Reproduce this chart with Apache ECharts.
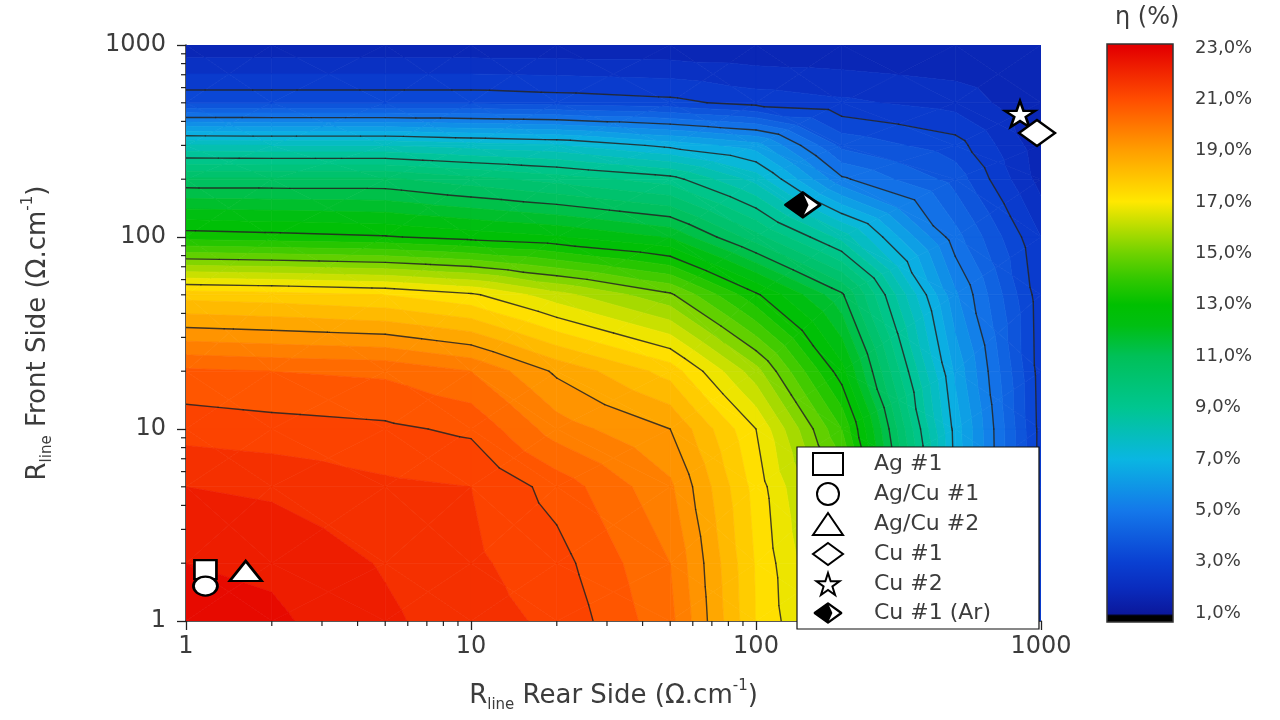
<!DOCTYPE html>
<html><head><meta charset="utf-8">
<script src="https://cdn.jsdelivr.net/npm/echarts@6/dist/echarts.min.js"></script>
<style>html,body{margin:0;padding:0;background:#fff}#c{width:1280px;height:720px}</style>
</head><body><div id="c"></div>
<script>
// ---------------- data ----------------
const rearR  = [1, 2, 5, 10, 20, 50, 100, 200, 500, 1000];        // R_line rear side (Ohm/cm)
const frontR = [1, 2, 5, 10, 20, 50, 100, 200, 300, 500, 1000];   // R_line front side (Ohm/cm)
// efficiency (%) : one row per front value (1 ... 1000), one column per rear value
const eta = [
  [22.7, 22.6, 22.1, 21.7, 21.4, 20.15, 17.5, 15.8, 6.95, 2.8],
  [22.5, 22.4, 21.95, 21.6, 21.2, 20.0, 17.45, 15.5, 6.95, 2.8],
  [22.0, 21.9, 21.6, 21.5, 20.8, 19.6, 17.3, 15.0, 6.9, 2.8],
  [21.3, 21.2, 21.1, 20.9, 19.75, 19.0, 17.0, 14.0, 6.8, 2.8],
  [20.6, 20.5, 20.4, 20.0, 18.9, 17.8, 15.7, 12.7, 6.4, 2.75],
  [17.8, 17.7, 17.5, 17.1, 16.2, 15.1, 13.1, 11.1, 5.6, 2.7],
  [13.3, 13.2, 13.05, 12.8, 12.55, 11.95, 10.2, 8.3, 4.7, 2.5],
  [10.6, 10.6, 10.6, 10.2, 9.8, 9.23, 7.8, 5.1, 3.8, 1.8],
  [8.05, 8.0, 8.0, 7.76, 7.56, 6.84, 6.24, 3.86, 3.23, 1.7],
  [3.4, 3.4, 3.4, 3.4, 3.3, 3.15, 2.8, 2.6, 2.3, 1.6],
  [1.6, 1.6, 1.6, 1.6, 1.6, 1.6, 1.55, 1.55, 1.5, 1.5]
];
const contourLevels = [3, 5, 7, 9, 11, 13, 15, 17, 19, 21];
const sampleNames = ['Ag #1', 'Ag/Cu #1', 'Ag/Cu #2', 'Cu #1', 'Cu #2', 'Cu #1 (Ar)'];
const sampleRear  = [1.17, 1.17, 1.62, 968, 844, 146];
const sampleFront = [1.85, 1.52, 1.82, 348, 437, 147];
const cbMin = 1, cbMax = 23, cbStep = 2;        // colour-bar tick labels 1,0% ... 23,0%
const cbRange = [0.65, 23.16];                 // extent of the colour bar
const minorDecades = [1, 10, 100];
const minorMult = [2, 3, 4, 5, 6, 7, 8, 9];

// ---------------- styles ----------------
const FONT = 'DejaVu Sans';
const TXT = '#3c3c3c';
const colorStops = [
  [0.65, '#000000'], [0.92, '#000000'], [1.0, '#0b189c'], [2, '#0a2cbe'], [3, '#0a40d2'], [5, '#1478ea'],
  [7, '#0ab6e2'], [9, '#00c690'], [11, '#00c058'], [12.2, '#00bf12'], [13, '#00c000'],
  [14, '#32c800'], [15, '#70d200'], [17, '#ffe800'], [19, '#ff9e00'], [21, '#ff4c00'],
  [23, '#e40000'], [23.16, '#e00000']
];
function hex2rgb(h) { return [parseInt(h.slice(1,3),16), parseInt(h.slice(3,5),16), parseInt(h.slice(5,7),16)]; }
function etaColor(v) {
  if (v <= colorStops[0][0]) return colorStops[0][1];
  for (let k = 0; k < colorStops.length - 1; k++) {
    const a = colorStops[k], b = colorStops[k+1];
    if (v <= b[0]) {
      const t = (v - a[0]) / (b[0] - a[0]);
      const ca = hex2rgb(a[1]), cb = hex2rgb(b[1]);
      return 'rgb(' + ca.map((c, n) => Math.round(c + t * (cb[n] - c))).join(',') + ')';
    }
  }
  return colorStops[colorStops.length - 1][1];
}

// ---------------- geometry helpers ----------------
const cells = [];
for (let j = 0; j < frontR.length - 1; j++)
  for (let i = 0; i < rearR.length - 1; i++)
    cells.push([Math.sqrt(rearR[i]*rearR[i+1]), Math.sqrt(frontR[j]*frontR[j+1]), i, j]);

function cellTriangles(api) {
  const i = api.value(2), j = api.value(3);
  const r0 = rearR[i], r1 = rearR[i+1], f0 = frontR[j], f1 = frontR[j+1];
  const P = (r, f, v) => { const p = api.coord([r, f]); return [p[0], p[1], v]; };
  const v00 = eta[j][i], v10 = eta[j][i+1], v11 = eta[j+1][i+1], v01 = eta[j+1][i];
  const A = P(r0, f0, v00), B = P(r1, f0, v10), C = P(r1, f1, v11), D = P(r0, f1, v01);
  const M = P(Math.sqrt(r0*r1), Math.sqrt(f0*f1), (v00 + v10 + v11 + v01) / 4);
  return [[A, B, M], [B, C, M], [C, D, M], [D, A, M]];
}
function clipPoly(poly, lev, above) {
  const out = [];
  for (let k = 0; k < poly.length; k++) {
    const p = poly[k], q = poly[(k+1) % poly.length];
    const pin = above ? p[2] >= lev : p[2] <= lev;
    const qin = above ? q[2] >= lev : q[2] <= lev;
    if (pin) out.push(p);
    if (pin !== qin) {
      const t = (lev - p[2]) / (q[2] - p[2]);
      out.push([p[0] + t*(q[0]-p[0]), p[1] + t*(q[1]-p[1]), lev]);
    }
  }
  return out;
}
const BAND = 0.5;
function renderField(params, api) {
  const children = [];
  cellTriangles(api).forEach(tri => {
    const vs = tri.map(p => p[2]);
    const lo = Math.min(...vs), hi = Math.max(...vs);
    for (let k = Math.floor(lo / BAND); k * BAND < hi || k === Math.floor(lo / BAND); k++) {
      const a = k * BAND, b = a + BAND;
      const poly = clipPoly(clipPoly(tri, a, true), b, false);
      if (poly.length < 3) continue;
      const col = etaColor(a + BAND / 2);
      children.push({ type: 'polygon', shape: { points: poly.map(p => [p[0], p[1]]) },
        style: { fill: col, stroke: col, lineWidth: 0.7 } });
    }
  });
  return { type: 'group', children };
}
function renderContours(params, api) {
  const children = [];
  cellTriangles(api).forEach(tri => {
    contourLevels.forEach(L => {
      const pts = [];
      for (let k = 0; k < 3; k++) {
        const p = tri[k], q = tri[(k+1) % 3];
        if ((p[2] < L) !== (q[2] < L)) {
          const t = (L - p[2]) / (q[2] - p[2]);
          pts.push([p[0] + t*(q[0]-p[0]), p[1] + t*(q[1]-p[1])]);
        }
      }
      if (pts.length === 2) children.push({ type: 'line',
        shape: { x1: pts[0][0], y1: pts[0][1], x2: pts[1][0], y2: pts[1][1] },
        style: { stroke: 'rgba(35,35,35,0.85)', lineWidth: 1.4, lineCap: 'round' } });
    });
  });
  return { type: 'group', children };
}
const minorVals = [];
minorDecades.forEach(d => minorMult.forEach(m => minorVals.push([d*m, d*m])));
function renderMinor(params, api) {
  const v = api.value(0);
  const bx = api.coord([v, 1]), ly = api.coord([1, v]);
  const st = { stroke: '#222', lineWidth: 1.2 };
  return { type: 'group', children: [
    { type: 'line', shape: { x1: bx[0], y1: bx[1], x2: bx[0], y2: bx[1] + 5 }, style: st },
    { type: 'line', shape: { x1: ly[0] - 5, y1: ly[1], x2: ly[0], y2: ly[1] }, style: st }
  ]};
}
function renderBar(params, api) {
  const p0 = api.coord([0, cbRange[1]]), p1 = api.coord([1, cbRange[0]]);
  const span = cbRange[1] - cbRange[0];
  const stops = colorStops.map(s => ({ offset: Math.min(1, Math.max(0, (cbRange[1] - s[0]) / span)), color: s[1] }))
    .sort((a, b) => a.offset - b.offset);
  return { type: 'rect', shape: { x: p0[0], y: p0[1], width: p1[0] - p0[0], height: p1[1] - p0[1] },
    style: { fill: new echarts.graphic.LinearGradient(0, 0, 0, 1, stops), stroke: '#333', lineWidth: 1.5 } };
}

// ---------------- symbols ----------------
const STAR = 'path://M50,2 L61,36 L97,36 L68,57 L79,92 L50,71 L21,92 L32,57 L3,36 L39,36 Z';
const halfSvg = "<svg xmlns='http://www.w3.org/2000/svg' width='40' height='30' viewBox='0 0 40 30'>" +
  "<polygon points='20,1.8 38.2,15 20,28.2 1.8,15' fill='white' stroke='black' stroke-width='3' stroke-linejoin='round'/>" +
  "<polygon points='20,1.8 26,15 20,28.2 1.8,15' fill='black'/></svg>";
const HALF = 'image://data:image/svg+xml;charset=utf-8,' + encodeURIComponent(halfSvg);
const symbols = ['rect', 'circle', 'triangle', 'diamond', STAR, HALF];
const symSizes = [[22, 19], [24, 19], [32, 20], [36, 26], [30, 26], [38, 28]];
const symZ = [5, 5, 5, 7, 6, 5];

const richName = {
  a: { fontSize: 26, lineHeight: 34, color: TXT, fontFamily: FONT },
  s: { fontSize: 15, lineHeight: 11, verticalAlign: 'bottom', color: TXT, fontFamily: FONT },
  p: { fontSize: 15, lineHeight: 15, verticalAlign: 'top', color: TXT, fontFamily: FONT }
};

const chart = echarts.init(document.getElementById('c'), null, { renderer: 'canvas' });
chart.setOption({
  animation: false,
  backgroundColor: '#ffffff',
  title: { text: 'η (%)', left: 1110, top: 1, textStyle: { fontSize: 24, fontWeight: 'normal', color: TXT, fontFamily: FONT } },
  grid: [
    { left: 186, top: 45, width: 855, height: 576 },
    { left: 1107, top: 48, width: 66, height: 565 }
  ],
  xAxis: [
    { gridIndex: 0, type: 'log', logBase: 10, min: 1, max: 1000,
      axisLine: { show: true, onZero: false, lineStyle: { color: '#222', width: 1.5 } },
      axisTick: { show: true, length: 9, lineStyle: { color: '#222', width: 1.3 } },
      axisLabel: { fontSize: 24, color: TXT, margin: 14, fontFamily: FONT, formatter: v => String(v) },
      splitLine: { show: false },
      name: '{a|R}{s|line}{a| Rear Side (Ω.cm}{p|-1}{a|)}', nameLocation: 'middle', nameGap: 58,
      nameTextStyle: { rich: richName } },
    { gridIndex: 1, type: 'value', min: 0, max: 1, show: false }
  ],
  yAxis: [
    { gridIndex: 0, type: 'log', logBase: 10, min: 1, max: 1000,
      axisLine: { show: true, onZero: false, lineStyle: { color: '#222', width: 1.5 } },
      axisTick: { show: true, length: 9, lineStyle: { color: '#222', width: 1.3 } },
      axisLabel: { fontSize: 24, color: TXT, margin: 20, fontFamily: FONT, formatter: v => String(v) },
      splitLine: { show: false },
      name: '{a|R}{s|line}{a| Front Side (Ω.cm}{p|-1}{a|)}', nameLocation: 'middle', nameGap: 131,
      nameTextStyle: { rich: richName } },
    { gridIndex: 1, type: 'value', min: cbMin, max: cbMax, interval: cbStep, position: 'right',
      axisLine: { show: false },
      axisTick: { show: true, length: 10, lineStyle: { color: '#333', width: 1.3 } },
      axisLabel: { fontSize: 18, color: TXT, margin: 22, fontFamily: FONT,
        formatter: v => v.toFixed(1).replace('.', ',') + '%' },
      splitLine: { show: false } }
  ],
  legend: {
    orient: 'vertical', left: 797, top: 447, itemWidth: 30, itemHeight: 22, itemGap: 6,
    padding: [5, 48, 5, 15], backgroundColor: '#ffffff', borderColor: '#111', borderWidth: 1.2, borderRadius: 0,
    textStyle: { fontSize: 22, color: TXT, fontFamily: FONT, padding: [0, 0, 0, 26] },
    data: sampleNames, selectedMode: false, z: 8
  },
  series: [
    { type: 'custom', name: 'field', xAxisIndex: 0, yAxisIndex: 0, data: cells, renderItem: renderField,
      silent: true, z: 1, clip: true, encode: { x: 0, y: 1 } },
    { type: 'custom', name: 'contours', xAxisIndex: 0, yAxisIndex: 0, data: cells, renderItem: renderContours,
      silent: true, z: 2, clip: true, encode: { x: 0, y: 1 } },
    { type: 'custom', name: 'minor', xAxisIndex: 0, yAxisIndex: 0, data: minorVals, renderItem: renderMinor,
      silent: true, z: 3, clip: false, encode: { x: 0, y: 1 } },
    { type: 'custom', name: 'colorbar', xAxisIndex: 1, yAxisIndex: 1, data: [[0.5, 12]], renderItem: renderBar,
      silent: true, z: 1, clip: false, encode: { x: 0, y: 1 } }
  ].concat(sampleNames.map((n, k) => ({
    type: 'scatter', name: n, xAxisIndex: 0, yAxisIndex: 0,
    data: [[sampleRear[k], sampleFront[k]]],
    symbol: symbols[k], symbolSize: symSizes[k],
    itemStyle: { color: '#ffffff', borderColor: '#000', borderWidth: 2.5, opacity: 1 },
    z: symZ[k], silent: true
  })))
});
</script></body></html>
